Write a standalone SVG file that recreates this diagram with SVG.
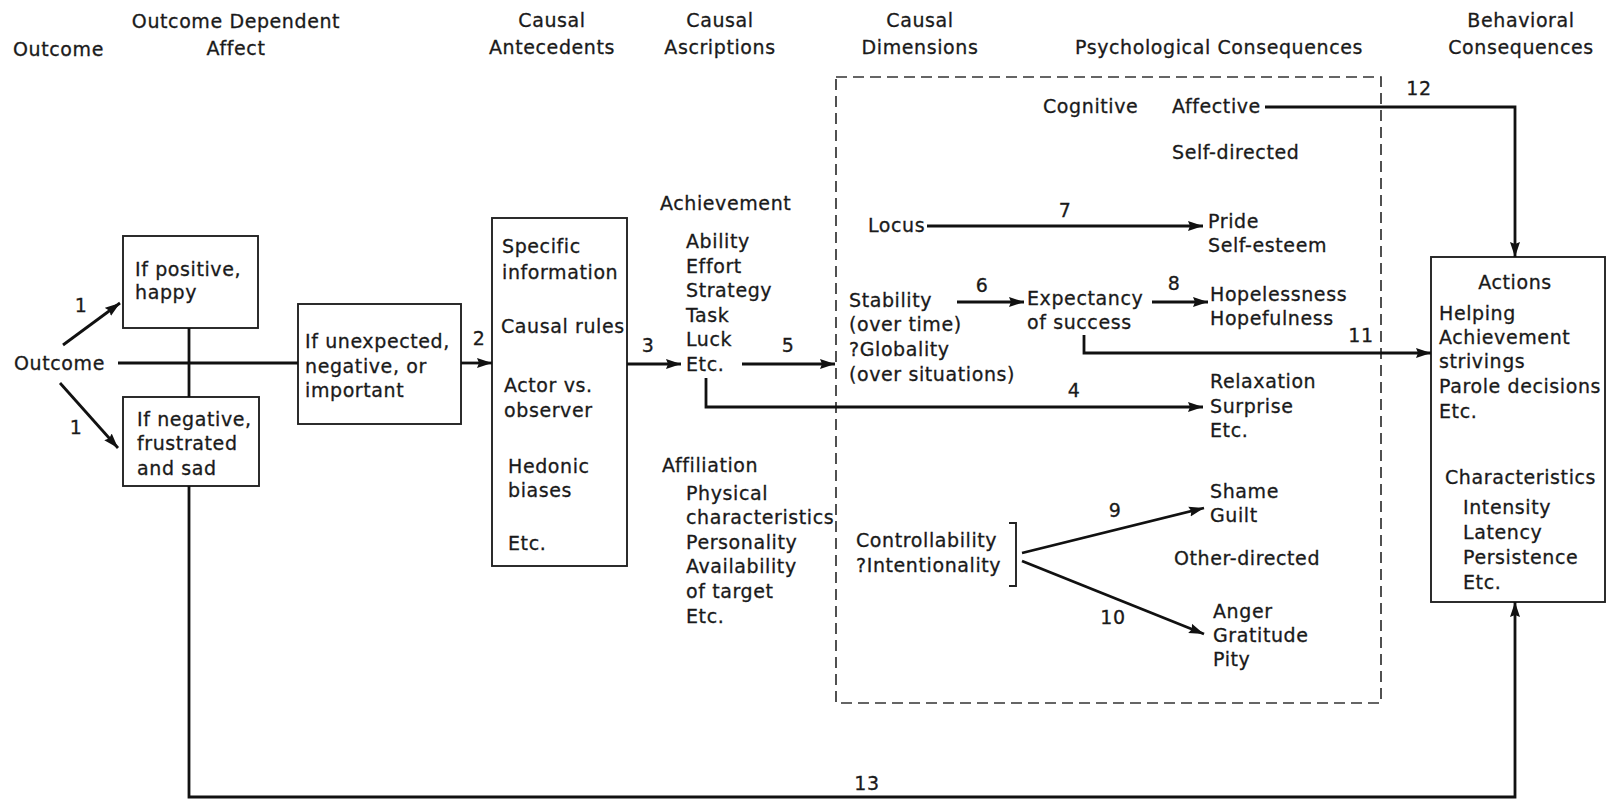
<svg xmlns="http://www.w3.org/2000/svg" width="1606" height="801" viewBox="0 0 1606 801">
<style>
text{font-family:"DejaVu Sans","Liberation Sans",sans-serif;font-size:19px;letter-spacing:0.6px;fill:#1a1a1a;stroke:#1a1a1a;stroke-width:0.3}
.m{text-anchor:middle}
.box{fill:none;stroke:#222;stroke-width:1.9}
.ln{fill:none;stroke:#111;stroke-width:2.8}
.ar{fill:none;stroke:#111;stroke-width:2.8;marker-end:url(#ah)}
.dash{fill:none;stroke:#333;stroke-width:1.7;stroke-dasharray:11 6}
</style>
<defs>
<marker id="ah" markerUnits="userSpaceOnUse" markerWidth="16" markerHeight="11" refX="15" refY="5.5" orient="auto">
<path d="M0,0.5 L15,5.5 L0,10.5 L2,5.5 z" fill="#111"/>
</marker>
</defs>
<g id="headers">
<text x="13" y="56">Outcome</text>
<text x="236" y="28" class="m">Outcome Dependent</text>
<text x="236" y="55" class="m">Affect</text>
<text x="552" y="27" class="m">Causal</text>
<text x="552" y="54" class="m">Antecedents</text>
<text x="720" y="27" class="m">Causal</text>
<text x="720" y="54" class="m">Ascriptions</text>
<text x="920" y="27" class="m">Causal</text>
<text x="920" y="54" class="m">Dimensions</text>
<text x="1219" y="54" class="m">Psychological Consequences</text>
<text x="1521" y="27" class="m">Behavioral</text>
<text x="1521" y="54" class="m">Consequences</text>
</g>
<g id="outcome"><text x="14" y="370">Outcome</text></g>
<g id="positive">
<rect class="box" x="123" y="236" width="135" height="92"/>
<text x="135" y="276">If positive,</text>
<text x="135" y="299">happy</text>
</g>
<g id="negative">
<rect class="box" x="123" y="397" width="136" height="89"/>
<text x="137" y="426">If negative,</text>
<text x="137" y="450">frustrated</text>
<text x="137" y="475">and sad</text>
</g>
<g id="unexpected">
<rect class="box" x="298" y="304" width="163" height="120"/>
<text x="305" y="348">If unexpected,</text>
<text x="305" y="373">negative, or</text>
<text x="305" y="397">important</text>
</g>
<g id="antecedents">
<rect class="box" x="492" y="218" width="135" height="348"/>
<text x="502" y="253">Specific</text>
<text x="502" y="279">information</text>
<text x="501" y="333">Causal rules</text>
<text x="504" y="392">Actor vs.</text>
<text x="504" y="417">observer</text>
<text x="508" y="473">Hedonic</text>
<text x="508" y="497">biases</text>
<text x="508" y="550">Etc.</text>
</g>
<g id="ascriptions">
<text x="660" y="210">Achievement</text>
<text x="686" y="248">Ability</text>
<text x="686" y="273">Effort</text>
<text x="686" y="297">Strategy</text>
<text x="686" y="322">Task</text>
<text x="686" y="346">Luck</text>
<text x="686" y="371">Etc.</text>
<text x="662" y="472">Affiliation</text>
<text x="686" y="500">Physical</text>
<text x="686" y="524">characteristics</text>
<text x="686" y="549">Personality</text>
<text x="686" y="573">Availability</text>
<text x="686" y="598">of target</text>
<text x="686" y="623">Etc.</text>
</g>
<g id="dimensions">
<rect class="dash" x="836" y="77" width="545" height="626"/>
<text x="868" y="232">Locus</text>
<text x="849" y="307">Stability</text>
<text x="849" y="331">(over time)</text>
<text x="849" y="356">?Globality</text>
<text x="849" y="381">(over situations)</text>
<text x="856" y="547">Controllability</text>
<text x="856" y="572">?Intentionality</text>
<path class="box" d="M1009,523 H1016 V586 H1009"/>
</g>
<g id="consequences">
<text x="1043" y="113">Cognitive</text>
<text x="1172" y="113">Affective</text>
<text x="1172" y="159">Self-directed</text>
<text x="1208" y="228">Pride</text>
<text x="1208" y="252">Self-esteem</text>
<text x="1027" y="305">Expectancy</text>
<text x="1027" y="329">of success</text>
<text x="1210" y="301">Hopelessness</text>
<text x="1210" y="325">Hopefulness</text>
<text x="1210" y="388">Relaxation</text>
<text x="1210" y="413">Surprise</text>
<text x="1210" y="437">Etc.</text>
<text x="1210" y="498">Shame</text>
<text x="1210" y="522">Guilt</text>
<text x="1174" y="565">Other-directed</text>
<text x="1213" y="618">Anger</text>
<text x="1213" y="642">Gratitude</text>
<text x="1213" y="666">Pity</text>
</g>
<g id="actions">
<rect class="box" x="1431" y="257" width="174" height="345"/>
<text x="1515" y="289" class="m">Actions</text>
<text x="1439" y="320">Helping</text>
<text x="1439" y="344">Achievement</text>
<text x="1439" y="368">strivings</text>
<text x="1439" y="393">Parole decisions</text>
<text x="1439" y="418">Etc.</text>
<text x="1445" y="484">Characteristics</text>
<text x="1463" y="514">Intensity</text>
<text x="1463" y="539">Latency</text>
<text x="1463" y="564">Persistence</text>
<text x="1463" y="589">Etc.</text>
</g>
<g id="connectors">
<path class="ln" d="M118,363 H298"/>
<path class="ln" d="M189,328 V397"/>
<path class="ar" d="M63,345 L120,303"/>
<path class="ar" d="M60,383 L118,448"/>
<path class="ar" d="M461,363 H492"/>
<path class="ar" d="M627,364 H681"/>
<path class="ar" d="M742,364 H835"/>
<path class="ar" d="M706,378 V407 H1203"/>
<path class="ar" d="M927,226 H1203"/>
<path class="ar" d="M957,302 H1024"/>
<path class="ar" d="M1152,302 H1208"/>
<path class="ar" d="M1084,335 V353 H1431"/>
<path class="ar" d="M1265,107 H1515 V257"/>
<path class="ar" d="M189,486 V797 H1515 V602"/>
<path class="ar" d="M1022,553 L1204,508"/>
<path class="ar" d="M1022,561 L1204,634"/>
<text x="81" y="312" class="m">1</text>
<text x="76" y="434" class="m">1</text>
<text x="479" y="345" class="m">2</text>
<text x="648" y="352" class="m">3</text>
<text x="788" y="352" class="m">5</text>
<text x="1074" y="397" class="m">4</text>
<text x="1065" y="217" class="m">7</text>
<text x="982" y="292" class="m">6</text>
<text x="1174" y="290" class="m">8</text>
<text x="1361" y="342" class="m">11</text>
<text x="1419" y="95" class="m">12</text>
<text x="1115" y="517" class="m">9</text>
<text x="1113" y="624" class="m">10</text>
<text x="867" y="790" class="m">13</text>
</g>
</svg>
